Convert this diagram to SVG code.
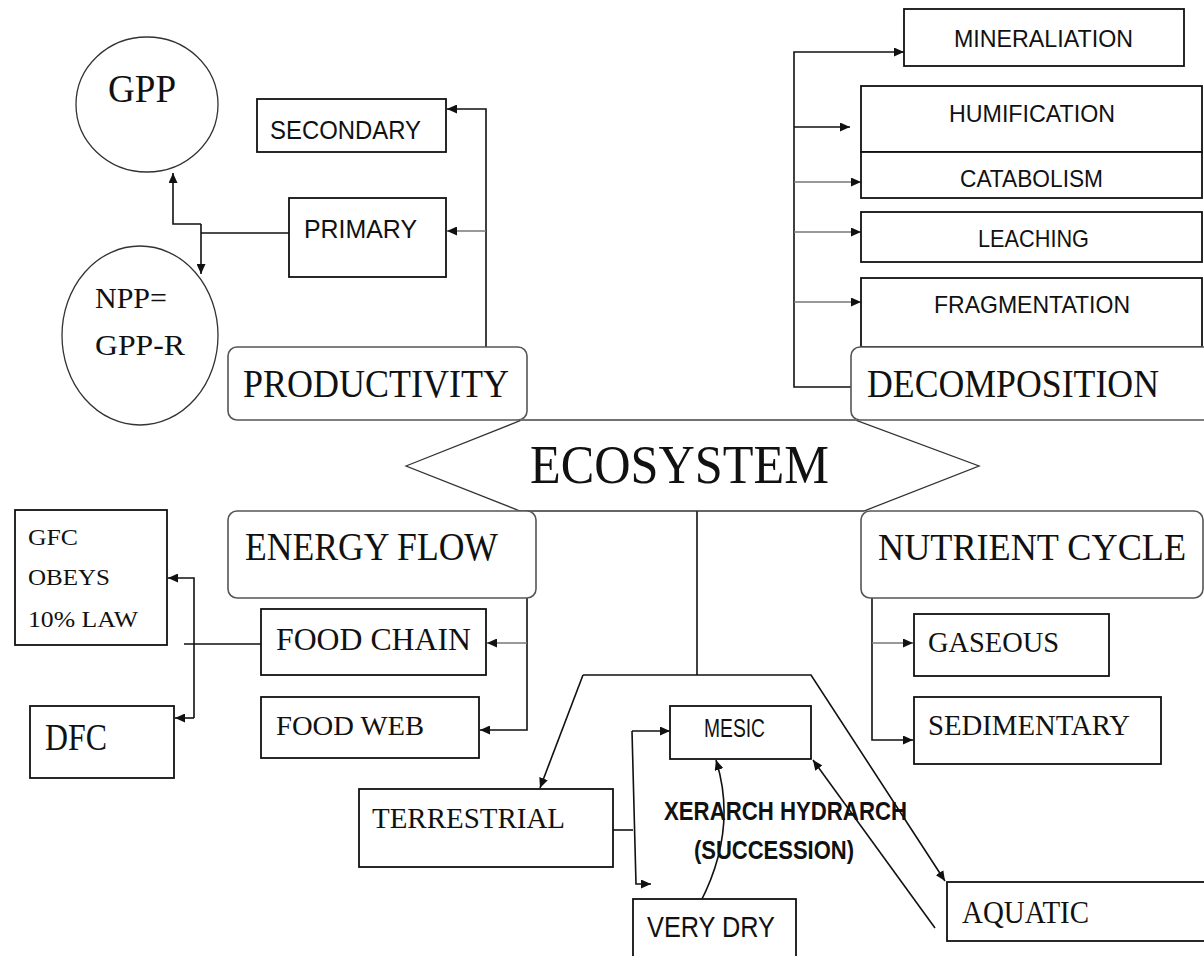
<svg xmlns="http://www.w3.org/2000/svg" width="1204" height="956" viewBox="0 0 1204 956">
<style>
.bx{fill:#fff;stroke:#111;stroke-width:1.8}
.rb{fill:#fff;stroke:#555;stroke-width:1.6}
.ci{fill:#fff;stroke:#333;stroke-width:1.3}
.hx{fill:#fff;stroke:#333;stroke-width:1.3}
.ln{fill:none;stroke:#111;stroke-width:1.6}
.gl{fill:none;stroke:#777;stroke-width:1.6}
.se{font-family:"Liberation Serif","DejaVu Serif",serif;fill:#111}
.sa{font-family:"Liberation Sans",Arial,sans-serif;fill:#111}
.sb{font-family:"Liberation Sans",Arial,sans-serif;fill:#111;font-weight:bold}
</style>
<defs>
<marker id="ah" markerUnits="userSpaceOnUse" markerWidth="10" markerHeight="9" refX="10" refY="4.5" orient="auto">
<path d="M0,0 L10,4.5 L0,9 z" fill="#111"/>
</marker>
</defs>
<rect width="1204" height="956" fill="#fff"/>

<g id="connectors">
<polyline class="ln" points="486,347 486,109 447,109" marker-end="url(#ah)"/>
<line class="gl" x1="486" y1="231" x2="447" y2="231" marker-end="url(#ah)"/>
<line class="ln" x1="289" y1="233" x2="201" y2="233"/>
<line class="ln" x1="201" y1="224" x2="201" y2="274" marker-end="url(#ah)"/>
<polyline class="ln" points="201,224 173,224 173,173" marker-end="url(#ah)"/>
<polyline class="ln" points="851,387 794,387 794,52 904,52" marker-end="url(#ah)"/>
<line class="ln" x1="794" y1="127" x2="850" y2="127" marker-end="url(#ah)"/>
<line class="gl" x1="794" y1="182" x2="861" y2="182" marker-end="url(#ah)"/>
<line class="gl" x1="794" y1="232" x2="861" y2="232" marker-end="url(#ah)"/>
<line class="gl" x1="794" y1="302" x2="861" y2="302" marker-end="url(#ah)"/>
<line class="ln" x1="697" y1="511" x2="697" y2="675"/>
<polyline class="ln" points="583,675 811,675 945,881" marker-end="url(#ah)"/>
<line class="ln" x1="583" y1="675" x2="540" y2="788" marker-end="url(#ah)"/>
<polyline class="ln" points="527,598 527,730 480,730" marker-end="url(#ah)"/>
<line class="gl" x1="527" y1="643" x2="487" y2="643" marker-end="url(#ah)"/>
<line class="ln" x1="261" y1="644" x2="184" y2="644"/>
<polyline class="ln" points="194,718 194,578 168,578" marker-end="url(#ah)"/>
<line class="ln" x1="194" y1="718" x2="175" y2="718" marker-end="url(#ah)"/>
<polyline class="ln" points="872,598 872,740 913,740" marker-end="url(#ah)"/>
<line class="gl" x1="872" y1="643" x2="913" y2="643" marker-end="url(#ah)"/>
<line class="ln" x1="613" y1="830" x2="633" y2="830"/>
<polyline class="ln" points="632,731 636,884 651,884" marker-end="url(#ah)"/>
<line class="ln" x1="632" y1="731" x2="670" y2="731" marker-end="url(#ah)"/>
<path class="ln" d="M700,903 Q738,830 716,760" marker-end="url(#ah)"/>
<line class="ln" x1="935" y1="928" x2="813" y2="760" marker-end="url(#ah)"/>
</g>

<g id="gpp">
<ellipse class="ci" cx="147" cy="104.5" rx="71" ry="67.5"/>
<text class="se" x="108" y="102" font-size="40" textLength="68" lengthAdjust="spacingAndGlyphs">GPP</text>
</g>
<g id="npp">
<ellipse class="ci" cx="140" cy="335.5" rx="78" ry="89.5"/>
<text class="se" x="95" y="308" font-size="30" textLength="72" lengthAdjust="spacingAndGlyphs">NPP=</text>
<text class="se" x="95" y="355" font-size="30" textLength="90" lengthAdjust="spacingAndGlyphs">GPP-R</text>
</g>
<g id="secondary">
<rect class="bx" x="257" y="99" width="189" height="53"/>
<text class="sa" x="270" y="139" font-size="25" textLength="151" lengthAdjust="spacingAndGlyphs">SECONDARY</text>
</g>
<g id="primary">
<rect class="bx" x="289" y="198" width="157" height="79"/>
<text class="sa" x="304" y="238" font-size="25" textLength="113" lengthAdjust="spacingAndGlyphs">PRIMARY</text>
</g>
<g id="productivity">
<rect class="rb" x="228" y="347" width="299" height="73" rx="9"/>
<text class="se" x="243" y="397" font-size="41" textLength="266" lengthAdjust="spacingAndGlyphs">PRODUCTIVITY</text>
</g>

<g id="mineraliation">
<rect class="bx" x="904" y="9" width="280" height="57"/>
<text class="sa" x="954" y="47" font-size="24" textLength="179" lengthAdjust="spacingAndGlyphs">MINERALIATION</text>
</g>
<g id="humification">
<rect class="bx" x="861" y="86" width="341" height="66"/>
<text class="sa" x="949" y="122" font-size="24" textLength="166" lengthAdjust="spacingAndGlyphs">HUMIFICATION</text>
</g>
<g id="catabolism">
<rect class="bx" x="861" y="152" width="341" height="46"/>
<text class="sa" x="960" y="187" font-size="24" textLength="143" lengthAdjust="spacingAndGlyphs">CATABOLISM</text>
</g>
<g id="leaching">
<rect class="bx" x="861" y="212" width="341" height="50"/>
<text class="sa" x="978" y="247" font-size="24" textLength="111" lengthAdjust="spacingAndGlyphs">LEACHING</text>
</g>
<g id="fragmentation">
<rect class="bx" x="861" y="278" width="341" height="69"/>
<text class="sa" x="934" y="313" font-size="24" textLength="196" lengthAdjust="spacingAndGlyphs">FRAGMENTATION</text>
</g>
<g id="decomposition">
<rect class="rb" x="851" y="347" width="370" height="73" rx="9"/>
<text class="se" x="867" y="397" font-size="41" textLength="292" lengthAdjust="spacingAndGlyphs">DECOMPOSITION</text>
</g>

<g id="ecosystem">
<polygon class="hx" points="406,466 522,420 855,420 979,466 864,511 520,511"/>
<line class="gl" x1="520" y1="420" x2="857" y2="420"/>
<text class="se" x="530" y="483" font-size="55" textLength="299" lengthAdjust="spacingAndGlyphs">ECOSYSTEM</text>
</g>

<g id="energyflow">
<rect class="rb" x="228" y="511" width="308" height="87" rx="9"/>
<text class="se" x="245" y="560" font-size="40" textLength="253" lengthAdjust="spacingAndGlyphs">ENERGY FLOW</text>
</g>
<g id="nutrientcycle">
<rect class="rb" x="861" y="511" width="342" height="87" rx="9"/>
<text class="se" x="878" y="560" font-size="37" textLength="308" lengthAdjust="spacingAndGlyphs">NUTRIENT CYCLE</text>
</g>

<g id="gfc">
<rect class="bx" x="15" y="510" width="152" height="135"/>
<text class="se" x="28" y="545" font-size="24" textLength="50" lengthAdjust="spacingAndGlyphs">GFC</text>
<text class="se" x="28" y="585" font-size="24" textLength="82" lengthAdjust="spacingAndGlyphs">OBEYS</text>
<text class="se" x="28" y="627" font-size="24" textLength="110" lengthAdjust="spacingAndGlyphs">10% LAW</text>
</g>
<g id="dfc">
<rect class="bx" x="30" y="706" width="144" height="72"/>
<text class="se" x="45" y="750" font-size="37" textLength="62" lengthAdjust="spacingAndGlyphs">DFC</text>
</g>
<g id="foodchain">
<rect class="bx" x="261" y="609" width="225" height="66"/>
<text class="se" x="276" y="650" font-size="31" textLength="195" lengthAdjust="spacingAndGlyphs">FOOD CHAIN</text>
</g>
<g id="foodweb">
<rect class="bx" x="261" y="697" width="218" height="61"/>
<text class="se" x="276" y="735" font-size="28" textLength="148" lengthAdjust="spacingAndGlyphs">FOOD WEB</text>
</g>
<g id="gaseous">
<rect class="bx" x="914" y="614" width="195" height="62"/>
<text class="se" x="928" y="652" font-size="30" textLength="131" lengthAdjust="spacingAndGlyphs">GASEOUS</text>
</g>
<g id="sedimentary">
<rect class="bx" x="914" y="697" width="247" height="67"/>
<text class="se" x="928" y="735" font-size="30" textLength="202" lengthAdjust="spacingAndGlyphs">SEDIMENTARY</text>
</g>
<g id="mesic">
<rect class="bx" x="670" y="706" width="141" height="53"/>
<text class="sa" x="704" y="737" font-size="25" textLength="61" lengthAdjust="spacingAndGlyphs">MESIC</text>
</g>
<g id="terrestrial">
<rect class="bx" x="359" y="789" width="254" height="78"/>
<text class="se" x="372" y="828" font-size="30" textLength="193" lengthAdjust="spacingAndGlyphs">TERRESTRIAL</text>
</g>
<g id="succession">
<text class="sb" x="664" y="820" font-size="26" textLength="243" lengthAdjust="spacingAndGlyphs">XERARCH HYDRARCH</text>
<text class="sb" x="694" y="859" font-size="26" textLength="160" lengthAdjust="spacingAndGlyphs">(SUCCESSION)</text>
</g>
<g id="verydry">
<rect class="bx" x="633" y="899" width="163" height="70"/>
<text class="sa" x="647" y="937" font-size="30" textLength="128" lengthAdjust="spacingAndGlyphs">VERY DRY</text>
</g>
<g id="aquatic">
<rect class="bx" x="947" y="882" width="270" height="59"/>
<text class="se" x="962" y="923" font-size="31" textLength="127" lengthAdjust="spacingAndGlyphs">AQUATIC</text>
</g>
</svg>
